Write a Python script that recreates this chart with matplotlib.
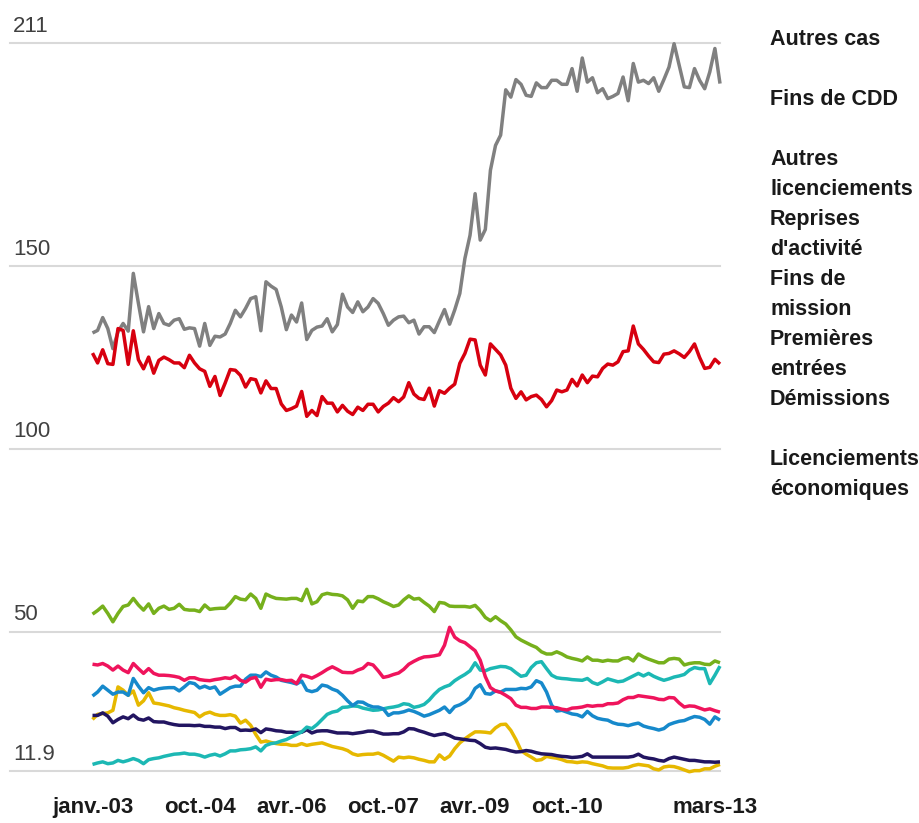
import matplotlib
matplotlib.use("Agg")
import matplotlib.pyplot as plt
import matplotlib.transforms as mtransforms
import numpy as np

# ---------------- data (monthly, janv.-03 .. avr.-13) ----------------
autres_cas = [131.7,132.4,135.9,132.9,127.4,132.0,134.3,132.2,148.0,139.8,
              132.0,138.9,132.9,137.0,134.3,133.8,135.2,135.6,132.7,133.1,
              132.9,128.1,134.3,128.3,130.8,130.6,131.4,134.3,137.9,136.1,
              138.4,141.1,141.6,132.3,145.7,144.5,143.6,138.8,132.6,136.6,
              134.7,139.9,129.9,132.4,133.3,133.6,135.6,132.0,134.0,142.3,
              138.8,137.3,140.2,137.5,138.8,141.1,139.8,137.0,133.8,135.2,
              136.1,136.3,134.5,135.2,131.4,133.4,133.4,131.8,135.0,138.1,
              134.1,138.0,142.5,152.1,158.4,169.8,157.1,160.0,176.2,183.0,
              185.8,198.2,196.2,201.0,199.7,196.7,196.4,200.1,198.8,198.8,
              200.8,200.8,199.7,199.7,204.0,197.8,206.9,200.3,201.5,197.4,
              198.5,195.8,196.4,197.2,201.7,195.2,205.4,200.3,200.8,199.9,
              201.5,197.8,201.0,204.4,210.8,204.9,199.0,198.8,204.0,200.8,
              198.5,203.1,209.5,199.9]

fins_cdd = [126.2,123.5,127.1,123.3,123.1,132.9,132.4,123.1,132.3,124.4,
            121.9,125.1,120.7,124.2,125.1,124.4,123.5,123.5,122.2,125.6,
            123.5,121.9,121.2,117.1,119.8,114.6,118.0,121.7,121.5,120.1,
            116.9,119.2,118.9,115.3,118.6,116.5,116.5,112.3,110.5,111.0,
            111.7,115.7,108.9,110.5,109.1,114.3,112.5,112.5,110.1,111.9,
            110.3,109.4,111.4,110.5,112.2,112.2,110.1,111.6,112.5,114.0,
            112.9,114.2,118.1,115.0,113.8,113.5,116.6,111.7,115.9,115.2,
            116.6,117.7,123.4,126.1,130.0,129.8,122.9,120.2,128.7,127.2,
            125.7,122.9,116.6,113.8,115.6,113.4,114.3,114.7,113.5,111.5,
            113.2,116.1,115.6,116.1,119.0,117.2,120.2,118.1,119.9,119.7,
            122.0,123.2,122.9,123.8,126.6,126.8,133.6,128.7,127.2,125.4,
            123.8,123.6,125.9,126.1,126.8,126.0,125.0,126.6,128.7,125.0,
            122.0,122.3,124.5,123.2]

autres_licenciements = [54.8,55.8,57.0,55.0,52.7,55.0,56.9,57.3,59.1,57.3,
                        55.9,57.6,55.0,56.4,57.0,56.1,56.4,57.5,56.1,55.9,
                        55.9,55.5,57.3,56.1,56.3,56.4,56.4,57.8,59.6,58.9,
                        58.7,60.3,59.1,56.4,60.3,59.6,59.1,59.0,58.9,59.1,
                        59.1,58.5,61.6,57.6,58.2,60.1,60.5,60.2,60.1,59.8,
                        58.7,56.4,58.4,58.2,59.6,59.6,59.0,58.2,57.6,56.9,
                        57.3,58.7,59.8,58.9,59.1,58.0,57.0,55.5,58.0,57.8,
                        57.0,56.9,56.9,56.9,56.7,57.2,55.8,53.9,53.0,54.1,
                        53.0,52.1,50.5,48.6,47.7,47.0,46.3,45.7,44.5,43.9,
                        43.9,44.5,43.9,43.1,42.7,42.4,42.0,43.1,42.2,42.2,
                        41.9,42.2,42.0,42.0,42.7,42.9,42.0,43.9,43.1,42.5,
                        42.0,41.5,41.5,42.5,42.7,42.5,40.9,41.3,41.5,41.5,
                        41.1,41.0,42.0,41.5]

fins_de_mission = [41.1,40.9,41.3,40.6,39.5,40.6,39.5,38.8,41.3,39.9,
                   38.6,39.9,38.6,38.1,38.1,38.0,37.8,37.5,36.7,37.4,
                   37.4,36.9,36.7,36.6,36.9,37.1,37.4,37.2,37.9,36.7,
                   36.2,37.2,37.5,34.8,37.0,36.7,36.9,36.9,36.6,36.7,
                   35.8,38.1,37.8,37.3,38.0,38.8,39.7,40.4,39.7,38.9,
                   38.8,38.8,39.5,40.0,41.3,40.9,39.3,37.5,37.8,38.3,
                   38.7,39.7,41.1,41.9,42.6,43.1,43.2,43.4,43.7,46.3,
                   51.2,48.5,47.5,47.0,45.9,44.8,42.2,37.7,34.7,33.8,
                   33.4,32.6,31.7,29.9,29.3,29.3,29.0,29.0,29.4,29.4,
                   29.3,29.2,28.8,28.6,29.1,29.2,29.4,29.8,29.6,29.8,
                   29.8,30.3,30.3,30.5,31.4,32.0,32.0,32.5,32.3,32.1,
                   31.9,31.5,31.4,32.0,31.9,30.5,29.4,29.7,29.6,29.1,
                   28.6,28.9,28.4,28.0]

reprises_activite = [13.7,14.1,14.4,13.9,14.1,14.8,14.4,14.8,15.3,14.8,
                     13.9,15.0,15.3,15.5,15.9,16.2,16.5,16.6,16.8,16.5,
                     16.5,16.2,15.7,16.2,16.5,16.0,16.6,17.4,17.4,17.7,
                     17.8,18.0,18.5,17.4,18.9,19.4,19.6,20.1,20.5,21.2,
                     21.9,22.6,23.9,23.5,24.6,26.0,27.4,28.0,28.3,29.3,
                     29.4,29.7,29.6,29.1,28.8,28.5,28.6,28.9,29.2,29.4,
                     29.7,30.3,30.1,29.3,29.6,30.1,31.3,32.9,34.2,34.9,
                     35.4,36.6,37.5,38.3,39.3,41.5,39.5,39.3,39.9,40.2,
                     40.5,40.4,39.9,38.8,37.8,38.1,40.2,41.5,41.8,39.9,
                     38.1,37.4,37.2,37.1,36.9,36.8,36.7,37.2,36.1,35.6,
                     36.3,37.1,36.7,36.3,36.5,37.2,37.9,38.6,37.9,38.6,
                     37.8,37.2,36.7,37.1,37.6,37.9,38.3,39.5,40.2,39.9,
                     39.9,35.8,38.1,40.6]

demissions = [32.4,33.5,35.1,34.0,32.9,33.5,33.5,32.6,37.2,35.1,
              33.3,34.7,34.0,34.4,34.6,34.7,34.7,33.8,34.9,36.1,
              35.8,34.6,35.1,34.5,34.9,32.9,33.8,34.7,35.1,35.1,
              37.0,38.1,38.1,37.7,39.0,38.1,37.6,36.7,36.4,36.1,
              35.7,36.5,34.0,33.6,34.0,35.4,35.1,34.3,33.8,32.6,
              31.1,29.8,30.8,30.7,29.9,29.4,29.4,28.9,27.1,27.8,
              27.8,28.1,28.6,28.2,27.6,26.9,27.3,27.9,28.5,29.4,
              27.9,29.5,30.0,30.8,32.0,34.5,35.5,33.1,32.9,33.8,
              33.5,34.2,34.2,34.2,34.5,34.4,34.9,36.6,36.0,33.5,
              29.9,28.3,28.5,28.0,27.5,27.3,26.7,28.2,27.0,26.3,
              26.0,25.8,25.1,24.7,24.6,24.3,24.7,25.0,24.2,23.8,
              23.5,23.1,23.5,24.6,25.1,25.5,25.7,26.3,26.8,26.6,
              26.0,24.7,26.7,25.8]

licenciements_eco = [26.0,27.4,27.6,27.8,28.5,34.9,34.0,32.6,33.8,29.9,
                     31.1,33.3,30.5,30.3,30.0,29.7,29.2,28.9,28.5,28.2,
                     27.9,26.7,27.6,28.0,27.4,27.1,27.1,27.3,26.9,25.0,
                     25.8,24.4,21.9,19.8,20.1,19.7,19.4,19.2,19.2,18.9,
                     18.9,19.4,18.9,19.2,19.4,19.6,19.1,18.6,18.3,18.0,
                     17.5,16.6,16.2,16.4,16.5,16.5,16.8,16.2,15.4,14.6,
                     15.7,15.5,15.7,15.5,15.1,14.8,14.4,14.4,16.3,15.1,
                     16.0,18.0,19.6,20.7,21.7,22.6,22.6,22.5,22.3,23.7,
                     24.6,24.7,23.0,20.5,17.5,16.5,15.7,14.8,15.0,15.9,
                     15.6,15.4,15.0,14.5,14.4,14.2,14.4,14.3,13.9,13.6,
                     13.3,12.8,12.7,12.7,12.7,12.9,13.4,13.7,13.5,13.3,
                     12.5,12.2,13.0,13.2,13.1,12.7,12.2,11.7,12.0,12.0,
                     12.5,12.5,13.2,13.7]

premieres_entrees = [27.1,27.1,27.8,26.9,25.1,26.0,26.7,26.2,27.2,26.1,
                     25.8,26.4,25.4,25.3,25.3,24.9,24.6,24.4,24.4,24.4,
                     24.3,24.4,24.1,24.1,23.9,23.9,23.5,23.8,23.8,23.0,
                     23.1,23.0,23.4,22.4,23.4,23.2,22.9,22.8,22.5,22.5,
                     22.4,22.5,23.2,22.3,22.8,22.9,22.9,22.6,22.3,22.3,
                     22.3,22.1,22.3,22.5,22.8,22.8,22.4,22.0,22.0,22.1,
                     22.1,22.6,23.5,23.4,22.9,22.5,22.0,21.6,21.9,22.1,
                     21.6,20.9,20.7,20.5,20.3,20.2,19.4,18.4,18.1,18.2,
                     18.0,17.8,17.4,17.1,17.2,17.5,17.3,16.9,16.6,16.5,
                     16.4,16.1,15.9,15.8,15.6,15.7,15.9,16.6,15.7,15.7,
                     15.7,15.7,15.7,15.7,15.7,15.7,15.9,16.5,15.7,15.4,
                     15.2,14.8,14.6,15.3,15.7,15.4,15.1,14.8,14.8,14.6,
                     14.4,14.4,14.3,14.4]

xtick_pos = [0, 21, 39, 57, 75, 93, 122]
xtick_labels = ["janv.-03", "oct.-04", "avr.-06", "oct.-07", "avr.-09", "oct.-10", "mars-13"]
ytick_vals = [11.9, 50, 100, 150, 211]
ytick_labels = ["11.9", "50", "100", "150", "211"]

legend_entries = [["Autres cas"], ["Fins de CDD"], ["Autres", "licenciements"],
                  ["Reprises", "d'activité"], ["Fins de", "mission"],
                  ["Premières", "entrées"], ["Démissions"],
                  ["Licenciements", "économiques"]]

# ---------------- figure ----------------
W, H = 920, 823
fig = plt.figure(figsize=(W / 100, H / 100), dpi=100)
plt.rcParams['font.family'] = ['Liberation Sans', 'DejaVu Sans']

ax_l, ax_r, ax_t, ax_b = 10, 720, 43, 771
ax = fig.add_axes([ax_l / W, (H - ax_b) / H, (ax_r - ax_l) / W, (ax_b - ax_t) / H])

n = len(autres_cas)
x = np.arange(n)
step = (ax_r - 92.5) / (n - 1)
ax.set_xlim(-(92.5 - ax_l) / step, n - 1)
ax.set_ylim(11.9, 211)

for s in ax.spines.values():
    s.set_visible(False)
ax.set_yticks([])

for v in ytick_vals:
    ax.axhline(v, color="#d9d9d9", lw=1.5, zorder=0, clip_on=False)

ytrans = mtransforms.blended_transform_factory(ax.transAxes, ax.transData) + \
    mtransforms.ScaledTranslation(0, 11.5 / 100, fig.dpi_scale_trans)
for v, lab in zip(ytick_vals, ytick_labels):
    ax.text(3 / (ax_r - ax_l), v, lab, transform=ytrans, ha="left", va="baseline",
            fontsize=16, color="#404040")

series = [
    (autres_cas, "#808080"),
    (fins_cdd, "#d7000f"),
    (autres_licenciements, "#76b01c"),
    (licenciements_eco, "#e6b800"),
    (premieres_entrees, "#221561"),
    (reprises_activite, "#1cb8b4"),
    (demissions, "#1689cb"),
    (fins_de_mission, "#ef145c"),
]
for i, (vals, col) in enumerate(series):
    ax.plot(x, vals, color=col, lw=2.5, solid_joinstyle="round",
            solid_capstyle="butt", clip_on=False, zorder=3 + i)

ax.set_xticks(xtick_pos)
ax.set_xticklabels(xtick_labels, fontsize=16, fontweight="bold", color="#1a1a1a")
ax.tick_params(axis="x", length=0, pad=19)

for k, entry in enumerate(legend_entries):
    for j, line in enumerate(entry):
        base = 45 + 60 * k + 30 * j
        fig.text(770 / W, 1 - base / H, line, ha="left", va="baseline",
                 fontsize=15.5, fontweight="bold", color="#1a1a1a")

fig.savefig("out.png", dpi=100)
